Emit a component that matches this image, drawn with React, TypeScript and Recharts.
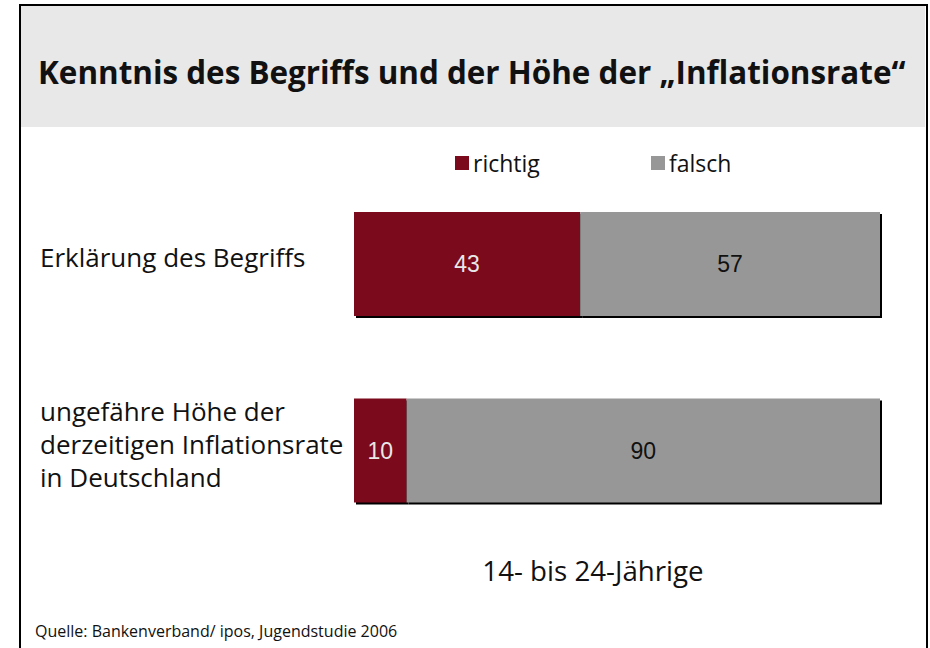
import { BarChart, Bar, XAxis, YAxis, Legend, LabelList } from "recharts";

const categories = [
  "Erklärung des Begriffs",
  "ungefähre Höhe der derzeitigen Inflationsrate in Deutschland",
];
const categoryLines = [
  ["Erklärung des Begriffs"],
  ["ungefähre Höhe der", "derzeitigen Inflationsrate", "in Deutschland"],
];
const seriesNames = ["richtig", "falsch"];
const richtig = [43, 10];
const falsch = [57, 90];

const title = "Kenntnis des Begriffs und der Höhe der „Inflationsrate“";
const subtitle = "14- bis 24-Jährige";
const source = "Quelle: Bankenverband/ ipos, Jugendstudie 2006";

const RED = "#7b0a1c";
const GREY = "#979797";
const FONT = "'Open Sans', 'Noto Sans', sans-serif";

const data = categories.map((name, i) => ({
  name,
  richtig: richtig[i],
  falsch: falsch[i],
}));

// bar with a thin black drop shadow to the right / bottom
function ShadowBar(props: any) {
  const { x, y, width, height, fill } = props;
  if (width == null || height == null) return null;
  return (
    <g>
      <rect x={x + 2} y={y + 2} width={width} height={height} fill="#000" />
      <rect x={x} y={y} width={width} height={height} fill={fill} />
    </g>
  );
}

function CategoryTick(props: any) {
  const { y, payload } = props;
  const idx = categories.indexOf(payload.value);
  const lines = categoryLines[idx] || [payload.value];
  const lh = 33;
  const first = y - ((lines.length - 1) / 2) * lh + 3;
  return (
    <text x={40} y={first} textAnchor="start" fontFamily={FONT} fontSize={26} fill="#111">
      {lines.map((l, i) => (
        <tspan key={i} x={40} y={first + i * lh}>
          {l}
        </tspan>
      ))}
    </text>
  );
}

function LegendContent(props: any) {
  const items = [...(props.payload || [])].sort(
    (a: any, b: any) => seriesNames.indexOf(a.value) - seriesNames.indexOf(b.value)
  );
  return (
    <div style={{ display: "flex", fontFamily: FONT, fontSize: 23, color: "#111", lineHeight: "28px" }}>
      {items.map((p: any) => (
        <div key={p.value} style={{ width: 196, display: "flex", alignItems: "center" }}>
          <span style={{ display: "inline-block", width: 14, height: 14, background: p.color, marginRight: 4 }} />
          {p.value}
        </div>
      ))}
    </div>
  );
}

export default function App() {
  return (
    <div
      style={{
        position: "absolute",
        left: 0,
        top: 0,
        width: 930,
        height: 648,
        overflow: "hidden",
        background: "#fff",
      }}
    >
      <div
        style={{
          position: "absolute",
          left: 19,
          top: 4,
          width: 905,
          height: 700,
          border: "2px solid #000",
        }}
      />
      <div
        style={{
          position: "absolute",
          left: 21,
          top: 6,
          width: 904,
          height: 121,
          background: "#e8e8e8",
        }}
      />
      <div
        style={{
          position: "absolute",
          left: 0,
          top: 0,
          width: 930,
          height: 648,
        }}
      >
        <BarChart
          width={930}
          height={648}
          data={data}
          layout="vertical"
          margin={{ top: 171, right: 50, left: 0, bottom: 104 }}
        >
          <XAxis type="number" domain={[0, 100]} hide />
          <YAxis
            type="category"
            dataKey="name"
            width={354}
            axisLine={false}
            tickLine={false}
            tick={<CategoryTick />}
          />
          <Legend
            layout="horizontal"
            verticalAlign="middle"
            align="center"
            content={<LegendContent />}
            wrapperStyle={{ top: 149, left: 455, width: 420, height: 28 }}
          />
          <Bar dataKey="richtig" name="richtig" stackId="a" fill={RED} barSize={104} shape={<ShadowBar />} isAnimationActive={false}>
            <LabelList dataKey="richtig" position="center" fill="#e8e8e8" fontSize={23} fontFamily="'Liberation Sans', Arial, sans-serif" />
          </Bar>
          <Bar dataKey="falsch" name="falsch" stackId="a" fill={GREY} barSize={104} shape={<ShadowBar />} isAnimationActive={false}>
            <LabelList dataKey="falsch" position="center" fill="#111" fontSize={23} fontFamily="'Liberation Sans', Arial, sans-serif" />
          </Bar>
        </BarChart>
      </div>
      <div
        style={{
          position: "absolute",
          left: 38,
          top: 51,
          fontFamily: FONT,
          fontWeight: 700,
          fontSize: 31.4,
          lineHeight: "42px",
          color: "#111",
          whiteSpace: "nowrap",
        }}
      >
        {title}
      </div>
      <div
        style={{
          position: "absolute",
          left: 330,
          width: 526,
          top: 552,
          textAlign: "center",
          fontFamily: FONT,
          fontSize: 27.7,
          lineHeight: "36px",
          color: "#111",
        }}
      >
        {subtitle}
      </div>
      <div
        style={{
          position: "absolute",
          left: 35,
          top: 621,
          fontFamily: FONT,
          fontSize: 16,
          lineHeight: "20px",
          color: "#111",
          whiteSpace: "nowrap",
        }}
      >
        {source}
      </div>
    </div>
  );
}
